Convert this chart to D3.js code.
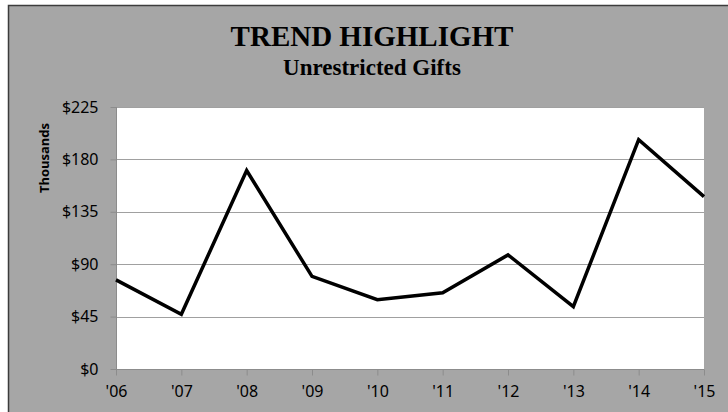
<!DOCTYPE html>
<html><head><meta charset="utf-8">
<script src="https://cdn.jsdelivr.net/npm/d3@7"></script>
<style>html,body{margin:0;padding:0;background:#fff;}svg{display:block;}</style>
</head><body>
<svg id="c" width="728" height="412"></svg>
<script>
const categories = ["'06","'07","'08","'09","'10","'11","'12","'13","'14","'15"];
const giftValues = [76.5, 47, 170.5, 79.5, 59.5, 65.5, 98, 53.5, 197, 148];
const yTicks = [0, 45, 90, 135, 180, 225];
const titleText = "TREND HIGHLIGHT";
const subtitleText = "Unrestricted Gifts";
const yAxisTitle = "Thousands";

const svg = d3.select("#c");
const W = 728, H = 412;
const m = {left:116, right:704, top:107, bottom:369};

svg.append("rect").attr("x",0).attr("y",0).attr("width",W).attr("height",H).attr("fill","#fff");
svg.append("rect").attr("x",8.5).attr("y",5.5).attr("width",W+10).attr("height",H+10)
  .attr("fill","#a6a6a6").attr("stroke","#3c3c3c").attr("stroke-width",1.5);

const x = d3.scalePoint().domain(categories).range([m.left, m.right]);
const y = d3.scaleLinear().domain([0,225]).range([m.bottom, m.top]);

svg.append("rect").attr("x",m.left).attr("y",m.top).attr("width",m.right-m.left).attr("height",m.bottom-m.top).attr("fill","#fff");

// gridlines
svg.append("g").selectAll("line").data(yTicks.filter(d=>d>0)).join("line")
  .attr("x1",m.left).attr("x2",m.right)
  .attr("y1",d=>Math.round(y(d))+0.5).attr("y2",d=>Math.round(y(d))+0.5)
  .attr("stroke","#a0a0a0").attr("stroke-width",1);

const tickFont = "'Noto Sans', 'Open Sans', sans-serif";

// y axis
const yAxis = svg.append("g").attr("transform",`translate(${m.left+0.5},0)`)
  .call(d3.axisLeft(y).tickValues(yTicks).tickFormat(d=>"$"+d).tickSize(6).tickPadding(12));
yAxis.select(".domain").attr("stroke","#8c8c8c").attr("d",`M0,${m.top}V${m.bottom}`);
yAxis.selectAll(".tick line").attr("stroke","#8c8c8c");
yAxis.selectAll(".tick text").attr("font-family",tickFont).attr("font-size",16).attr("fill","#000");

// x axis
const xAxis = svg.append("g").attr("transform",`translate(0,${m.bottom+0.5})`)
  .call(d3.axisBottom(x).tickSize(6).tickPadding(10));
xAxis.select(".domain").attr("stroke","#8c8c8c").attr("d",`M${m.left},0H${m.right}`);
xAxis.selectAll(".tick line").attr("stroke","#8c8c8c");
xAxis.selectAll(".tick text").attr("font-family",tickFont).attr("font-size",16).attr("fill","#000");

// line
svg.append("path").datum(giftValues)
  .attr("d", d3.line().x((d,i)=>x(categories[i])).y(d=>y(d)))
  .attr("fill","none").attr("stroke","#000").attr("stroke-width",3.5).attr("stroke-linejoin","miter");

// titles
svg.append("text").attr("x",372).attr("y",46).attr("text-anchor","middle")
  .attr("font-family","'Liberation Serif', 'DejaVu Serif', serif").attr("font-weight","bold").attr("font-size",29)
  .text(titleText);
svg.append("text").attr("x",372).attr("y",75).attr("text-anchor","middle")
  .attr("font-family","'Liberation Serif', 'DejaVu Serif', serif").attr("font-weight","bold").attr("font-size",23)
  .text(subtitleText);
svg.append("text").attr("transform","translate(49,158) rotate(-90)").attr("text-anchor","middle")
  .attr("font-family",tickFont).attr("font-weight","bold").attr("font-size",13)
  .text(yAxisTitle);
</script>
</body></html>
